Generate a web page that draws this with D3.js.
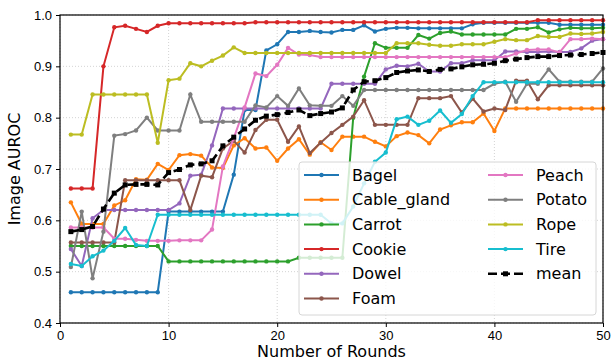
<!DOCTYPE html>
<html lang="en">
<head>
<meta charset="UTF-8">
<title>Image AUROC per round</title>
<script src="https://d3js.org/d3.v7.min.js"></script>
<style>
    body { margin: 0; background: #fff; }
    svg { font-family: "DejaVu Sans", sans-serif; }
    .grid line { stroke: #c8c8c8; stroke-width: 0.8; stroke-dasharray: 1,2; }
    .axis path, .axis line { stroke: #000; }
    .axis text { font-size: 13px; fill: #000; }
</style>
</head>
<body>
<svg width="613" height="362"></svg>
<script>
const rounds = d3.range(1, 51);
const xTicks = [0, 10, 20, 30, 40, 50];
const yTicks = [0.4, 0.5, 0.6, 0.7, 0.8, 0.9, 1.0];

const bagel = [0.460,0.460,0.460,0.460,0.460,0.460,0.460,0.460,0.460,
    0.617,0.617,0.617,0.617,0.617,0.617,0.689,0.815,0.815,0.931,0.943,
    0.967,0.967,0.969,0.967,0.966,0.971,0.971,0.980,0.968,0.973,
    0.975,0.975,0.974,0.974,0.974,0.974,0.974,0.982,0.985,0.985,
    0.985,0.985,0.985,0.985,0.985,0.981,0.981,0.981,0.981,0.981];
const cableGland = [0.635,0.593,0.593,0.593,0.629,0.639,0.680,0.679,0.710,0.698,
    0.727,0.729,0.726,0.703,0.702,0.746,0.760,0.740,0.742,0.716,
    0.740,0.758,0.728,0.752,0.737,0.763,0.763,0.763,0.753,0.744,
    0.764,0.771,0.766,0.750,0.777,0.785,0.791,0.791,0.808,0.774,
    0.818,0.818,0.818,0.818,0.818,0.818,0.818,0.818,0.818,0.818];
const carrot = [0.550,0.550,0.550,0.550,0.550,0.550,0.550,0.550,0.550,0.520,
    0.520,0.520,0.520,0.520,0.520,0.520,0.520,0.520,0.520,0.520,
    0.520,0.527,0.527,0.527,0.527,0.527,0.800,0.880,0.945,0.936,
    0.936,0.936,0.961,0.954,0.965,0.968,0.962,0.962,0.962,0.962,
    0.962,0.973,0.973,0.976,0.966,0.972,0.975,0.974,0.974,0.975];
const cookie = [0.662,0.662,0.662,0.900,0.976,0.979,0.973,0.967,0.979,0.984,
    0.984,0.984,0.984,0.984,0.984,0.984,0.984,0.986,0.986,0.986,
    0.986,0.986,0.986,0.986,0.986,0.986,0.986,0.986,0.986,0.986,
    0.986,0.986,0.986,0.986,0.986,0.986,0.986,0.986,0.986,0.986,
    0.986,0.986,0.986,0.990,0.990,0.990,0.990,0.990,0.990,0.990];
const dowel = [0.544,0.511,0.604,0.620,0.620,0.620,0.620,0.620,0.620,0.620,
    0.633,0.687,0.689,0.746,0.818,0.818,0.818,0.818,0.818,0.818,
    0.818,0.818,0.818,0.818,0.866,0.866,0.866,0.866,0.866,0.894,
    0.901,0.900,0.905,0.890,0.890,0.906,0.906,0.912,0.912,0.912,
    0.929,0.929,0.928,0.928,0.929,0.928,0.928,0.935,0.950,0.953];
const foam = [0.557,0.557,0.557,0.557,0.557,0.678,0.678,0.678,0.678,0.678,
    0.678,0.620,0.687,0.684,0.740,0.755,0.732,0.776,0.796,0.796,
    0.753,0.783,0.731,0.751,0.770,0.786,0.802,0.834,0.786,0.786,
    0.786,0.786,0.838,0.838,0.838,0.842,0.810,0.837,0.812,0.818,
    0.815,0.872,0.872,0.836,0.863,0.863,0.863,0.863,0.863,0.863];
const peach = [0.586,0.586,0.586,0.586,0.564,0.564,0.562,0.560,0.560,0.560,
    0.561,0.561,0.561,0.582,0.705,0.760,0.820,0.886,0.881,0.903,
    0.936,0.923,0.922,0.918,0.918,0.918,0.918,0.918,0.918,0.918,
    0.918,0.918,0.918,0.918,0.918,0.918,0.918,0.918,0.918,0.918,
    0.918,0.925,0.932,0.933,0.933,0.927,0.953,0.953,0.954,0.953];
const potato = [0.509,0.617,0.487,0.578,0.765,0.768,0.775,0.800,0.775,0.775,
    0.775,0.845,0.792,0.792,0.792,0.792,0.792,0.824,0.820,0.842,
    0.823,0.857,0.824,0.823,0.823,0.842,0.823,0.854,0.854,0.854,
    0.854,0.854,0.854,0.854,0.854,0.854,0.854,0.854,0.854,0.866,
    0.870,0.831,0.866,0.866,0.894,0.870,0.870,0.870,0.870,0.896];
const rope = [0.767,0.767,0.845,0.845,0.845,0.845,0.845,0.845,0.751,0.873,
    0.876,0.906,0.900,0.911,0.921,0.937,0.926,0.926,0.926,0.926,
    0.926,0.926,0.926,0.926,0.926,0.926,0.926,0.926,0.926,0.926,
    0.945,0.945,0.945,0.942,0.940,0.940,0.943,0.943,0.943,0.948,
    0.953,0.951,0.951,0.959,0.957,0.957,0.964,0.963,0.964,0.967];
const tire = [0.515,0.511,0.530,0.541,0.560,0.585,0.552,0.550,0.611,0.611,
    0.611,0.611,0.611,0.611,0.611,0.611,0.611,0.611,0.611,0.611,
    0.611,0.611,0.611,0.611,0.594,0.594,0.627,0.672,0.714,0.732,
    0.797,0.802,0.786,0.794,0.814,0.790,0.807,0.842,0.869,0.869,
    0.869,0.869,0.869,0.869,0.869,0.869,0.869,0.869,0.869,0.869];
const mean = [0.578,0.582,0.588,0.622,0.653,0.669,0.670,0.670,0.669,0.693,
    0.699,0.708,0.710,0.716,0.745,0.762,0.778,0.795,0.803,0.806,
    0.810,0.815,0.804,0.808,0.811,0.819,0.854,0.870,0.872,0.878,
    0.888,0.891,0.893,0.890,0.894,0.895,0.899,0.903,0.904,0.906,
    0.911,0.914,0.917,0.919,0.919,0.921,0.922,0.923,0.925,0.927];

const series = [
    { name: "Bagel", values: bagel, color: "#1f77b4" },
    { name: "Cable_gland", values: cableGland, color: "#ff7f0e" },
    { name: "Carrot", values: carrot, color: "#2ca02c" },
    { name: "Cookie", values: cookie, color: "#d62728" },
    { name: "Dowel", values: dowel, color: "#9467bd" },
    { name: "Foam", values: foam, color: "#8c564b" },
    { name: "Peach", values: peach, color: "#e377c2" },
    { name: "Potato", values: potato, color: "#7f7f7f" },
    { name: "Rope", values: rope, color: "#bcbd22" },
    { name: "Tire", values: tire, color: "#17becf" },
    { name: "mean", values: mean, color: "#000", dashed: true }
];

const margin = { top: 15, right: 10, bottom: 39, left: 60 };
const width = 613 - margin.left - margin.right;
const height = 362 - margin.top - margin.bottom;

const svg = d3.select("svg");
const g = svg.append("g").attr("transform", `translate(${margin.left},${margin.top})`);

const x = d3.scaleLinear().domain([0, 50]).range([0, width]);
const y = d3.scaleLinear().domain([0.4, 1.0]).range([height, 0]);

// grid
g.append("g").attr("class", "grid")
    .selectAll("line").data(xTicks).enter().append("line")
    .attr("x1", d => x(d)).attr("x2", d => x(d))
    .attr("y1", 0).attr("y2", height);
g.append("g").attr("class", "grid")
    .selectAll("line").data(yTicks).enter().append("line")
    .attr("x1", 0).attr("x2", width)
    .attr("y1", d => y(d)).attr("y2", d => y(d));

const line = d3.line()
    .x((d, i) => x(rounds[i]))
    .y(d => y(d));

series.forEach(s => {
    const sg = g.append("g");
    sg.append("path")
        .datum(s.values)
        .attr("fill", "none")
        .attr("stroke", s.color)
        .attr("stroke-width", s.dashed ? 2.6 : 2)
        .attr("stroke-dasharray", s.dashed ? "9,4" : null)
        .attr("d", line);
    if (s.dashed) {
        sg.selectAll("rect").data(s.values).enter().append("rect")
            .attr("x", (d, i) => x(rounds[i]) - 2.5)
            .attr("y", d => y(d) - 2.5)
            .attr("width", 5).attr("height", 5)
            .attr("fill", s.color);
    } else {
        sg.selectAll("circle").data(s.values).enter().append("circle")
            .attr("cx", (d, i) => x(rounds[i]))
            .attr("cy", d => y(d))
            .attr("r", 2.2)
            .attr("fill", s.color);
    }
});

// axes
g.append("g").attr("class", "axis")
    .attr("transform", `translate(0,${height})`)
    .call(d3.axisBottom(x).tickValues(xTicks).tickSize(4).tickPadding(4).tickFormat(d3.format("d")));
g.append("g").attr("class", "axis")
    .call(d3.axisLeft(y).tickValues(yTicks).tickSize(4).tickPadding(4).tickFormat(d3.format(".1f")));
g.selectAll(".axis .domain").remove();
g.append("rect")
    .attr("width", width).attr("height", height)
    .attr("fill", "none").attr("stroke", "#000").attr("stroke-width", 1.2);

svg.append("text")
    .attr("x", margin.left + width / 2).attr("y", 357)
    .attr("text-anchor", "middle").attr("font-size", 16)
    .text("Number of Rounds");
svg.append("text")
    .attr("transform", `translate(20,${margin.top + height / 2}) rotate(-90)`)
    .attr("text-anchor", "middle").attr("font-size", 16)
    .text("Image AUROC");

// legend, two columns
const legend = svg.append("g");
legend.append("rect")
    .attr("x", 299).attr("y", 162).attr("width", 297).attr("height", 153)
    .attr("rx", 3)
    .attr("fill", "#fff").attr("fill-opacity", 0.8)
    .attr("stroke", "#d6d6d6");
const rowH = 24.7;
series.forEach((s, i) => {
    const col = i < 6 ? 0 : 1;
    const row = col === 0 ? i : i - 6;
    const lx = col === 0 ? 304 : 488;
    const ly = 175 + row * rowH;
    legend.append("line")
        .attr("x1", lx).attr("x2", lx + 35)
        .attr("y1", ly).attr("y2", ly)
        .attr("stroke", s.color)
        .attr("stroke-width", s.dashed ? 2.6 : 2)
        .attr("stroke-dasharray", s.dashed ? "9,4" : null);
    if (s.dashed) {
        legend.append("rect").attr("x", lx + 15).attr("y", ly - 2.5)
            .attr("width", 5).attr("height", 5).attr("fill", s.color);
    } else {
        legend.append("circle").attr("cx", lx + 17.5).attr("cy", ly)
            .attr("r", 2.2).attr("fill", s.color);
    }
    legend.append("text")
        .attr("x", lx + 48).attr("y", ly)
        .attr("dy", "0.35em")
        .attr("font-size", 16)
        .text(s.name);
});
</script>
</body>
</html>
